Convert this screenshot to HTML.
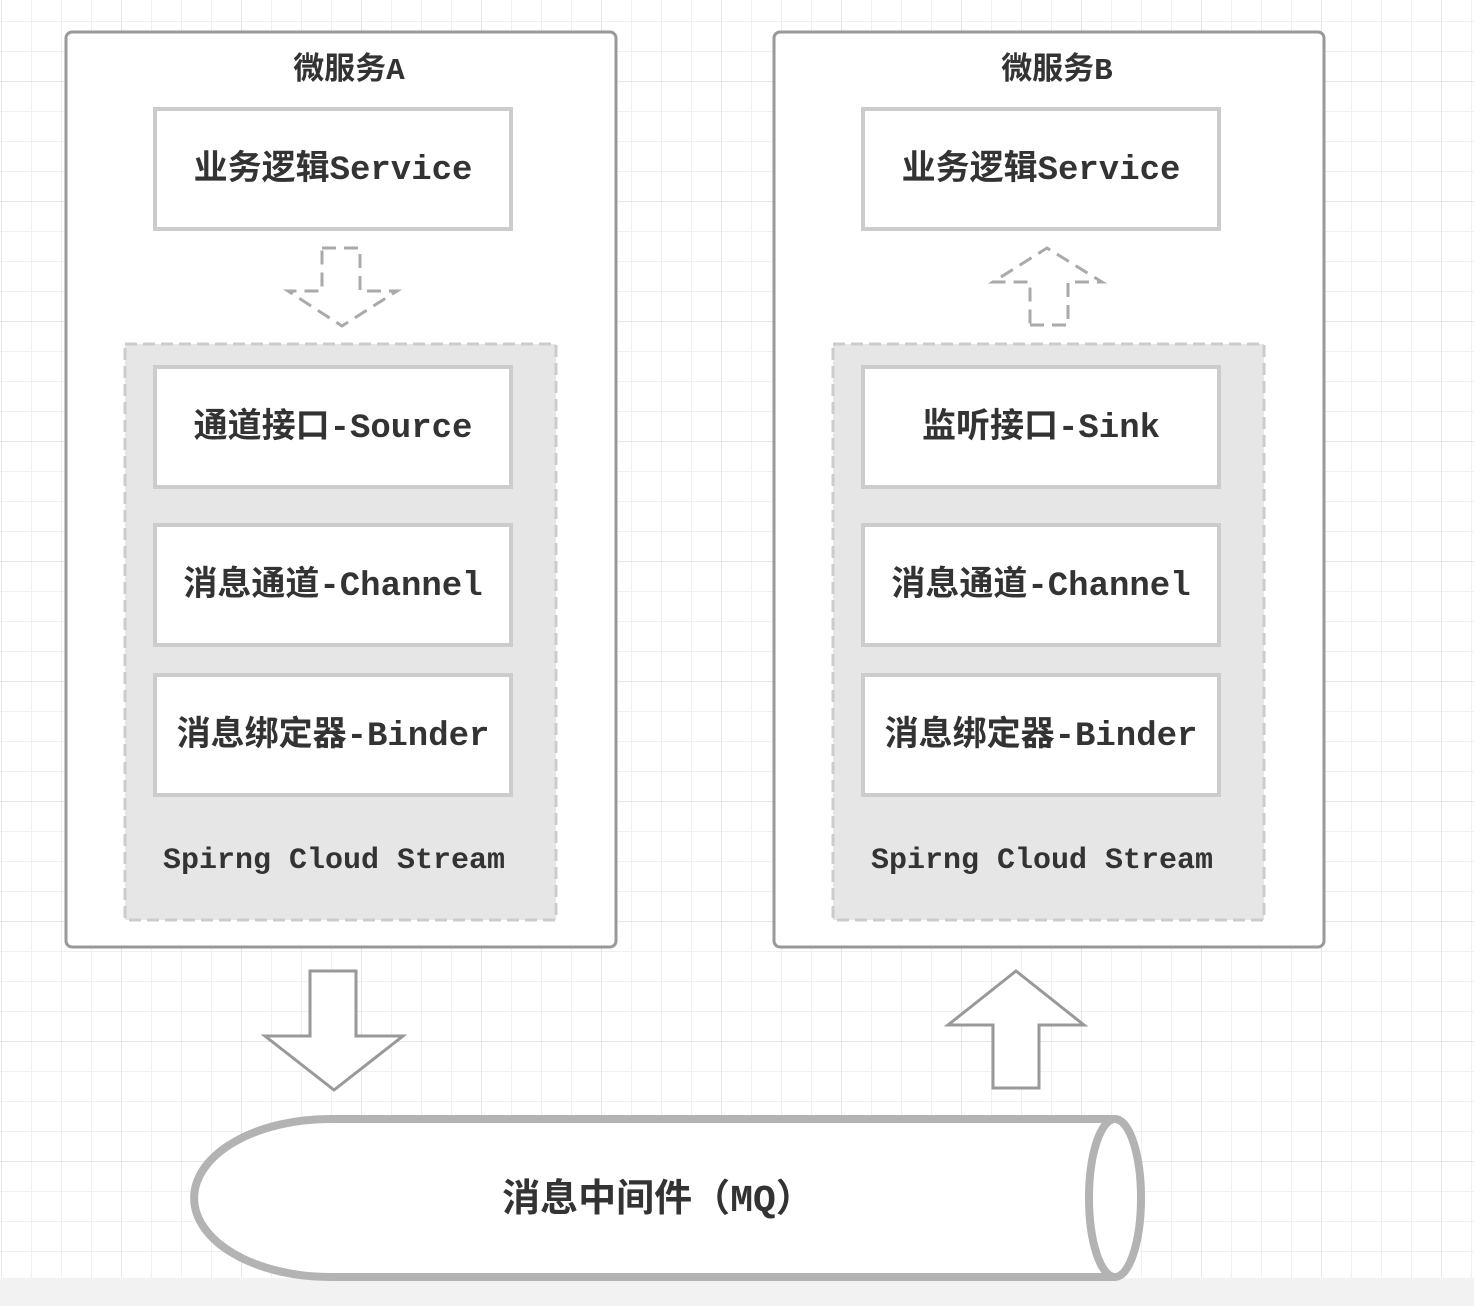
<!DOCTYPE html>
<html><head><meta charset="utf-8"><style>
html,body{margin:0;padding:0;background:#fff}
svg{display:block}
text{font-family:"Liberation Mono","Noto Sans CJK SC",monospace;font-weight:bold;fill:#333}
</style></head><body>
<svg width="1474" height="1306" viewBox="0 0 1474 1306" xmlns="http://www.w3.org/2000/svg">
<defs>
<pattern id="g" x="1" y="21" width="30" height="30" patternUnits="userSpaceOnUse">
<path d="M0 0H30M0 0V30" stroke="#f0f0f0" stroke-width="2" fill="none"/>
</pattern>
<pattern id="G" x="1" y="81" width="120" height="120" patternUnits="userSpaceOnUse">
<path d="M0 0H120M0 0V120" stroke="#e6e6e6" stroke-width="2" fill="none"/>
</pattern>
</defs>
<rect width="1474" height="1278" fill="url(#g)"/>
<rect width="1474" height="1278" fill="url(#G)"/>
<rect y="1278" width="1474" height="28" fill="#f2f2f2"/>

<!-- A -->
<rect x="66" y="32" width="550" height="915" rx="6" fill="#fff" stroke="#999" stroke-width="3"/>
<text x="349" y="79" font-size="31" text-anchor="middle">微服务A</text>
<rect x="155" y="109" width="356" height="120" fill="#fff" stroke="#ccc" stroke-width="4"/>
<text x="333" y="179" font-size="34" text-anchor="middle">业务逻辑Service</text>
<path d="M322 248H360V291H397L342 326L288 291H322Z" fill="none" stroke="#aaa" stroke-width="3" stroke-dasharray="14 8"/>
<rect x="125" y="344" width="431" height="576" fill="#e6e6e6" stroke="#ccc" stroke-width="3" stroke-dasharray="12 6"/>
<rect x="155" y="367" width="356" height="120" fill="#fff" stroke="#ccc" stroke-width="4"/>
<text x="333" y="437" font-size="34" text-anchor="middle">通道接口-Source</text>
<rect x="155" y="525" width="356" height="120" fill="#fff" stroke="#ccc" stroke-width="4"/>
<text x="333" y="595" font-size="34" text-anchor="middle">消息通道-Channel</text>
<rect x="155" y="675" width="356" height="120" fill="#fff" stroke="#ccc" stroke-width="4"/>
<text x="333" y="745" font-size="34" text-anchor="middle">消息绑定器-Binder</text>
<text x="334" y="868" font-size="30" text-anchor="middle">Spirng Cloud Stream</text>

<!-- B -->
<rect x="774" y="32" width="550" height="915" rx="6" fill="#fff" stroke="#999" stroke-width="3"/>
<text x="1057" y="79" font-size="31" text-anchor="middle">微服务B</text>
<rect x="863" y="109" width="356" height="120" fill="#fff" stroke="#ccc" stroke-width="4"/>
<text x="1041" y="179" font-size="34" text-anchor="middle">业务逻辑Service</text>
<path d="M1030 325H1068V282H1102L1047 248L993 282H1030Z" fill="none" stroke="#aaa" stroke-width="3" stroke-dasharray="14 8"/>
<rect x="833" y="344" width="431" height="576" fill="#e6e6e6" stroke="#ccc" stroke-width="3" stroke-dasharray="12 6"/>
<rect x="863" y="367" width="356" height="120" fill="#fff" stroke="#ccc" stroke-width="4"/>
<text x="1041" y="437" font-size="34" text-anchor="middle">监听接口-Sink</text>
<rect x="863" y="525" width="356" height="120" fill="#fff" stroke="#ccc" stroke-width="4"/>
<text x="1041" y="595" font-size="34" text-anchor="middle">消息通道-Channel</text>
<rect x="863" y="675" width="356" height="120" fill="#fff" stroke="#ccc" stroke-width="4"/>
<text x="1041" y="745" font-size="34" text-anchor="middle">消息绑定器-Binder</text>
<text x="1042" y="868" font-size="30" text-anchor="middle">Spirng Cloud Stream</text>

<!-- big arrows -->
<path d="M310 971H356V1036H403L334 1090L265 1036H310Z" fill="#fff" stroke="#999" stroke-width="3"/>
<path d="M993 1088H1039V1025H1084L1016 971L948 1025H993Z" fill="#fff" stroke="#999" stroke-width="3"/>

<!-- cylinder -->
<path d="M1115 1119H330A136 79 0 0 0 330 1277H1115" fill="#fff" stroke="#b3b3b3" stroke-width="8"/>
<ellipse cx="1115" cy="1198" rx="26" ry="79" fill="#fff" stroke="#b3b3b3" stroke-width="8"/>
<text x="658" y="1211" font-size="38" text-anchor="middle" style="font-family:'Noto Sans CJK SC','Liberation Sans',sans-serif">消息中间件（<tspan style="font-family:'Liberation Mono',monospace">MQ</tspan>）</text>
</svg>
</body></html>
